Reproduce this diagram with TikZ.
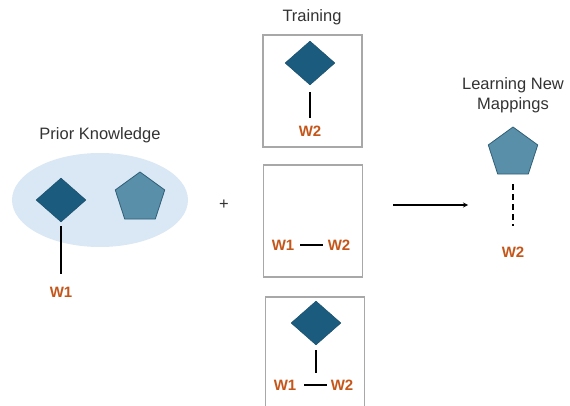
\documentclass[tikz,border=0pt]{standalone}
\usepackage{fontspec}
\setmainfont{Liberation Sans}
\usepackage{tikz}
\usetikzlibrary{positioning, shapes.geometric}
\usepackage{xcolor}
\definecolor{xteal}{HTML}{1B5C7E}
\definecolor{xpent}{HTML}{5A8FAA}
\definecolor{xpentedge}{HTML}{2F5F77}
\definecolor{xsky}{HTML}{DAE7F4}
\definecolor{xorange}{HTML}{C5561A}
\definecolor{xgray}{HTML}{A8A8A8}
\definecolor{xtext}{HTML}{333333}
\tikzset{
	arrow/.style={line width=1.2pt, ->, >=stealth},
	link/.style={line width=1.4pt},
	mapping/.style={diamond, fill=xteal, draw=xteal!80!black, minimum width=50pt, minimum height=44pt, inner sep=0pt},
	concept/.style={regular polygon, regular polygon sides=5, fill=xpent, draw=xpentedge, thick, minimum size=52pt, inner sep=0pt},
	wlabel/.style={text=xorange, font=\bfseries\fontsize{15}{18}\selectfont, inner sep=0pt},
	title/.style={text=xtext, font=\fontsize{16.5}{20}\selectfont, align=center},
	panel/.style={draw=xgray, line width=1.5pt, minimum width=99pt, minimum height=112pt},
}

\begin{document}
\begin{tikzpicture}[x=1pt, y=-1pt]
	\useasboundingbox (0,0) rectangle (570,406);
% Prior knowledge
		\node[ellipse, fill=xsky, minimum width=176pt, minimum height=94pt] (prior) at (100,200) {};
		\node[title] (priorT) at (100,135) {Prior Knowledge};
		\node[mapping] (P1) at (61,200) {};
		\node[concept] (P2) at (140,198) {};
		\node[wlabel] (W1a) at (61,292) {W1};
		\draw[link, shorten <=4pt, shorten >=13pt] (P1.south) -- (W1a.north);

		\node[title] (plus) at (224,205) {+};

% Training
		\node[title] (trainT) at (312,17) {Training};

		\node[panel] (box1) at (312.5,91) {};
		\node[mapping] (T1) at (310,63) {};
		\node[wlabel] (W2a) at (310,131) {W2};
		\draw[link, shorten <=7pt, shorten >=8pt] (T1.south) -- (W2a.north);

		\node[panel] (box2) at (313,221) {};
		\node[wlabel] (W1b) at (283,245) {W1};
		\node[wlabel] (W2b) at (339,245) {W2};
		\draw[link, shorten <=6pt, shorten >=5pt] (W1b.east) -- (W2b.west);

		\node[panel] (box3) at (315,353) {};
		\node[mapping] (T3) at (316,323) {};
		\node[wlabel] (W1c) at (285,385) {W1};
		\node[wlabel] (W2c) at (342,385) {W2};
		\coordinate (T3end) at (316,373);
		\draw[link, shorten <=5pt] (T3.south) -- (T3end);
		\draw[link, shorten <=8pt, shorten >=4pt] (W1c.east) -- (W2c.west);

% Learning new mappings
		\coordinate (arrS) at (393,205);
		\coordinate (arrE) at (468,205);
		\draw[arrow] (arrS) -- (arrE);

		\node[title] (learnT) at (513,95) {Learning New\\Mappings};
		\node[concept] (L1) at (513,153) {};
		\node[wlabel] (W2d) at (513,252) {W2};
		\draw[link, dashed, dash pattern=on 6pt off 4pt, shorten <=10pt, shorten >=21pt] (L1.south) -- (W2d.north);
	\end{tikzpicture}
\end{document}
